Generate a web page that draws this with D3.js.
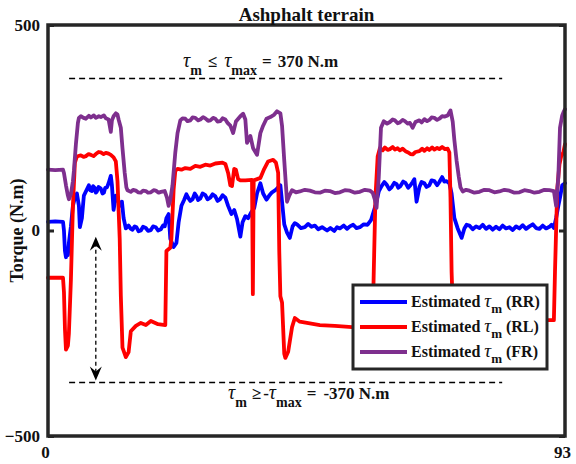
<!DOCTYPE html>
<html>
<head>
<meta charset="utf-8">
<script src="https://cdn.jsdelivr.net/npm/d3@7"></script>
<style>
body { margin: 0; background: #fff; }
svg text { font-family: "Liberation Serif", "Times New Roman", serif; font-weight: bold; fill: #111; }
</style>
</head>
<body>
<script>
var width = 576,
    height = 464;

// plot box (pixels)
var boxLeft = 48, boxRight = 565, boxTop = 25, boxBottom = 436;

var xTicks = [0, 93];
var yTicks = [-500, 0, 500];
var tauMax = 370;
var limitRange = [3.8, 81.7];
var arrowTime = 8.6, arrowRange = [-15, -365];

var seriesNames = ["(RR)", "(RL)", "(FR)"];
var seriesColors = ["#0000ff", "#ff0000", "#7e2f8e"];

// [time (s), torque (N.m)]
var torqueRR = [[0,21],[1.3,22],[2.7,21],[2.87,0],[3.05,-50],[3.23,-65],[3.4,-45],[3.58,-60],[3.76,-30],[4.12,10],[4.48,60],
  [4.84,80],[5.2,90],[5.56,60],[5.73,8],[6.1,30],[6.45,85],[7.0,100],[7.35,110],[7.6,98],[7.9,96],[8.1,108],[8.4,104],
  [8.6,92],[8.8,95],[9.1,106],[9.5,102],[9.8,90],[10.05,92],[10.3,104],[10.6,105],[10.9,115],[11.3,133],[11.5,110],
  [11.8,50],[12.2,85],[12.5,80],[12.9,60],[13.3,70],[13.6,30],[14.0,5],[14.5,12],[14.9,4],[15.2,2],[15.6,10],[15.9,8],
  [16.3,-2],[16.7,0],[17.1,9],[17.6,6],[18.0,-1],[18.5,1],[18.9,10],[19.4,8],[19.8,0],[20.3,3],[20.7,12],[21.0,10],
  [21.3,30],[21.7,40],[22.0,-20],[22.6,-40],[23.1,-30],[23.5,20],[24.0,60],[24.5,75],[24.9,88],[25.2,80],[25.6,72],
  [26.0,76],[26.4,90],[26.7,84],[27.0,74],[27.4,78],[27.8,90],[28.3,86],[28.7,76],[29.2,80],[29.6,88],[30.1,83],
  [30.5,72],[31.0,77],[31.4,86],[31.9,80],[32.4,60],[33.0,40],[33.5,50],[34.0,28],[34.6,-15],[35.0,20],[35.5,35],
  [36.0,30],[36.6,45],[37.1,55],[37.6,90],[38.2,115],[38.7,90],[39.3,75],[39.8,85],[40.3,93],[40.9,98],[41.4,105],
  [41.8,110],[42.1,70],[42.5,15],[43.0,-5],[43.5,-18],[44.0,10],[44.4,18],[44.8,15],[45.5,6],[46.2,8],[46.8,16],
  [47.4,9],[48.0,12],[48.6,3],[49.3,8],[50.2,0],[50.8,6],[51.5,-1],[52.0,8],[52.5,5],[53.2,12],[53.8,4],[54.3,10],
  [54.9,14],[55.5,6],[56.1,8],[56.8,15],[57.5,14],[58.1,25],[58.4,38],[58.9,60],[59.5,95],[60.0,108],[60.5,118],
  [60.9,112],[61.4,100],[61.8,105],[62.3,116],[62.7,113],[63.0,104],[63.4,108],[63.9,119],[64.3,116],[64.8,104],
  [65.2,110],[65.6,118],[65.9,125],[66.3,70],[66.8,105],[67.2,118],[67.7,115],[68.1,106],[68.6,110],[69.0,122],
  [69.5,120],[70.0,110],[70.4,118],[70.9,130],[71.3,119],[71.7,120],[72.2,115],[72.6,90],[73.1,30],[73.7,5],[74.4,-18],
  [74.9,5],[75.3,14],[75.8,12],[76.4,3],[77.0,10],[77.6,6],[78.2,14],[78.8,4],[79.4,10],[80.0,2],[80.6,9],[81.2,3],
  [81.8,12],[82.4,5],[83.0,8],[83.6,1],[84.2,10],[84.8,5],[85.4,13],[86.0,4],[86.6,10],[87.2,15],[87.8,6],[88.4,4],
  [89.0,12],[89.6,5],[90.2,9],[90.6,14],[91.0,6],[91.4,30],[91.8,60],[92.1,80],[92.5,110],[93,115]];

var torqueRL = [[0,-115],[2.7,-115],[2.87,-150],[3.05,-240],[3.23,-290],[3.58,-280],[3.76,-250],[4.12,-120],[4.48,60],
  [4.84,165],[5.2,180],[5.91,183],[6.4,179],[6.81,181],[7.3,186],[7.71,184],[8.2,181],[8.6,186],[9.1,191],[9.5,190],
  [10.0,186],[10.4,189],[10.9,187],[11.3,184],[11.8,178],[12.2,168],[12.5,120],[12.9,-20],[13.1,-158],[13.4,-285],
  [14.0,-308],[14.5,-296],[14.9,-245],[15.8,-232],[16.7,-225],[17.6,-230],[18.5,-220],[19.8,-228],[21.1,-230],
  [21.3,-50],[22.0,-42],[22.2,-20],[22.6,100],[22.9,145],[23.3,150],[24.0,148],[24.7,152],[25.6,150],[26.5,157],
  [27.4,155],[28.3,160],[29.2,158],[30.1,163],[31.4,165],[31.9,162],[32.4,140],[32.8,110],[33.1,108],[33.5,150],
  [33.8,148],[34.2,125],[34.6,122],[35.5,122],[36.7,123],[36.85,-155],[37.0,122],[38.2,128],[38.9,150],[39.6,168],
  [40.5,172],[41.0,165],[41.4,140],[41.6,-50],[41.8,-160],[42.1,-175],[42.5,-300],[42.7,-310],[43.2,-295],[43.9,-235],
  [44.4,-213],[45.3,-222],[47.1,-226],[48.9,-230],[51.6,-232],[54.7,-235],[57.9,-232],[58.4,-225],[58.6,-100],
  [58.9,80],[59.3,180],[59.7,200],[60.2,195],[60.6,202],[61.1,196],[61.5,198],[62.0,203],[62.4,197],[62.9,200],
  [63.3,195],[63.8,199],[64.3,193],[64.8,190],[65.2,186],[65.6,185],[66.1,191],[66.8,193],[67.3,199],[67.7,194],
  [68.2,200],[68.6,196],[69.1,202],[69.5,197],[70.0,201],[70.4,198],[70.9,203],[71.4,198],[71.9,199],[72.2,190],
  [72.4,80],[72.6,-100],[72.9,-225],[74.0,-230],[81.2,-225],[89.8,-218],[91.0,-218],[91.2,-100],[91.6,100],[92.0,160],
  [92.3,180],[92.7,190],[93,210]];

var torqueFR = [[0,148],[1.3,147],[2.7,148],[2.87,140],[3.23,110],[3.58,85],[3.76,76],[4.12,88],[4.48,120],[4.66,145],
  [5.02,210],[5.38,262],[5.56,274],[5.91,278],[6.4,274],[6.81,272],[7.35,279],[7.71,275],[8.25,280],[8.6,274],[9.15,278],
  [9.5,276],[10.05,280],[10.4,273],[10.9,270],[11.3,240],[11.5,268],[11.8,278],[12.2,285],[12.5,282],[12.7,270],
  [13.1,250],[13.4,200],[13.8,140],[14.1,105],[14.3,98],[14.9,94],[15.3,99],[15.8,97],[16.2,93],[16.7,92],[17.1,97],
  [17.6,96],[18.0,92],[18.5,93],[19.0,98],[19.4,97],[19.9,92],[20.3,94],[21.0,96],[21.4,80],[21.7,60],[22.0,75],
  [22.4,110],[22.9,190],[23.3,237],[23.8,268],[24.2,273],[24.7,272],[25.1,266],[25.6,268],[26.0,275],[26.5,274],
  [27.0,268],[27.4,270],[27.9,276],[28.3,273],[28.8,267],[29.2,268],[29.7,274],[30.1,272],[30.5,265],[31.0,266],
  [31.4,273],[31.9,270],[32.3,262],[32.8,255],[33.3,237],[33.8,265],[34.6,278],[35.1,284],[35.5,270],[35.8,213],
  [36.4,230],[36.9,200],[37.6,184],[38.2,237],[38.7,255],[39.3,272],[40.0,276],[40.7,282],[41.2,290],[41.8,285],
  [42.1,255],[42.5,170],[42.8,110],[43.0,70],[43.4,85],[43.9,98],[44.6,93],[45.3,95],[46.2,99],[47.1,97],[48.0,93],
  [48.9,92],[49.8,97],[50.7,96],[51.6,91],[52.5,93],[53.4,98],[54.3,97],[55.2,92],[56.1,94],[57.0,99],[57.9,97],
  [58.4,92],[58.8,75],[59.1,55],[59.5,130],[59.9,250],[60.4,266],[61.0,260],[61.5,264],[62.0,270],[62.4,268],
  [62.9,261],[63.3,263],[63.8,269],[64.2,266],[64.7,260],[65.1,262],[65.6,250],[66.1,264],[66.8,268],[67.2,263],
  [67.7,271],[68.2,266],[68.6,269],[69.0,275],[69.5,274],[70.0,269],[70.4,272],[70.9,278],[71.3,277],[71.9,280],
  [72.4,292],[72.8,265],[73.1,220],[73.5,170],[73.9,130],[74.2,105],[74.6,95],[75.2,99],[75.8,97],[76.7,92],[77.6,94],
  [78.5,99],[79.4,98],[80.3,93],[81.2,95],[82.1,99],[83.0,97],[83.9,92],[84.8,93],[85.7,98],[86.6,96],[87.5,92],
  [88.4,94],[89.3,99],[90.2,98],[91.0,96],[91.4,60],[91.8,130],[92.1,250],[92.5,280],[92.8,290],[93,295]];

var series = [torqueRR, torqueRL, torqueFR];

var svg = d3.select("body").append("svg")
    .attr("width", width)
    .attr("height", height);

var x = d3.scaleLinear().domain([0, 93]).range([boxLeft, boxRight]);
var y = d3.scaleLinear().domain([-500, 500]).range([boxBottom, boxTop]);

// text with tau / subscripts; each part may carry its own gap (dx)
function richText(g, px, py, parts, size, subSize, subDrop) {
  var t = g.append("text").attr("x", px).attr("y", py).style("font-size", size + "px");
  var shift = 0;
  parts.forEach(function(p) {
    var target = p.sub ? subDrop : 0;
    var s = t.append("tspan").text(p.t).attr("dy", target - shift);
    shift = target;
    if (p.dx) s.attr("dx", p.dx);
    if (p.sub) s.style("font-size", subSize + "px");
    if (p.it) s.style("font-style", "italic").style("font-weight", "normal").style("font-size", (size + 3) + "px");
  });
  return t;
}

var line = d3.line()
    .x(function(d) { return x(d[0]); })
    .y(function(d) { return y(d[1]); });

var plot = svg.append("g");

// limit lines
plot.selectAll(".limit")
  .data([tauMax, -tauMax])
  .enter().append("line")
    .attr("x1", x(limitRange[0]))
    .attr("x2", x(limitRange[1]))
    .attr("y1", function(d) { return y(d); })
    .attr("y2", function(d) { return y(d); })
    .attr("stroke", "#000")
    .attr("stroke-width", 1.4)
    .attr("stroke-dasharray", "6,4");

// data lines
plot.selectAll(".torque")
  .data(series)
  .enter().append("path")
    .attr("d", line)
    .attr("fill", "none")
    .attr("stroke", function(d, i) { return seriesColors[i]; })
    .attr("stroke-width", 3.8)
    .attr("stroke-linejoin", "round")
    .attr("stroke-linecap", "round");

// double arrow
var ax = x(arrowTime), ay1 = y(arrowRange[0]), ay2 = y(arrowRange[1]);
plot.append("line")
    .attr("x1", ax).attr("x2", ax)
    .attr("y1", ay1 + 6).attr("y2", ay2 - 6)
    .attr("stroke", "#000")
    .attr("stroke-width", 1.3)
    .attr("stroke-dasharray", "4,3");
plot.append("path")
    .attr("d", "M" + ax + "," + ay1 + "l-6,14l6,-5l6,5z")
    .attr("fill", "#000");
plot.append("path")
    .attr("d", "M" + ax + "," + ay2 + "l-6,-14l6,5l6,-5z")
    .attr("fill", "#000");

// annotations
richText(svg, 183, 67, [{t: "τ", it: true}, {t: "m", sub: true}, {t: "≤", dx: 6}, {t: "τ", it: true, dx: 7},
  {t: "max", sub: true}, {t: "=", dx: 5}, {t: tauMax + " N.m", dx: 6}], 17, 14, 7.5);
richText(svg, 228, 399, [{t: "τ", it: true}, {t: "m", sub: true}, {t: "≥", dx: 5}, {t: "-", dx: 2}, {t: "τ", it: true},
  {t: "max", sub: true}, {t: "=", dx: 5}, {t: "-" + tauMax + " N.m", dx: 7}], 17, 14, 8);

// axes
var frameColor = "#262626";
var yAxisL = svg.append("g")
    .attr("transform", "translate(" + boxLeft + ",0)")
    .call(d3.axisLeft(y).tickValues(yTicks).tickSize(-6).tickPadding(8));
var yAxisR = svg.append("g")
    .attr("transform", "translate(" + boxRight + ",0)")
    .call(d3.axisRight(y).tickValues(yTicks).tickSize(-6).tickFormat(""));
var xAxis = svg.append("g")
    .attr("transform", "translate(0," + boxBottom + ")")
    .call(d3.axisBottom(x).tickValues(xTicks).tickSize(0).tickPadding(10));
xAxis.selectAll("text").attr("dx", -3);

[yAxisL, yAxisR, xAxis].forEach(function(a) {
  a.select(".domain").remove();
  a.selectAll(".tick line").attr("stroke", frameColor).attr("stroke-width", 3);
  a.selectAll("text")
      .style("font-family", "'Liberation Serif', 'Times New Roman', serif")
      .style("font-weight", "bold")
      .style("font-size", "17px")
      .attr("fill", "#111");
});

svg.append("rect")
    .attr("x", boxLeft).attr("y", boxTop)
    .attr("width", boxRight - boxLeft).attr("height", boxBottom - boxTop)
    .attr("fill", "none")
    .attr("stroke", frameColor)
    .attr("stroke-width", 3.5);

svg.append("text")
    .attr("x", (boxLeft + boxRight) / 2)
    .attr("y", 21)
    .attr("text-anchor", "middle")
    .style("font-size", "19px")
    .text("Ashphalt terrain");

svg.append("text")
    .attr("transform", "translate(23," + ((boxTop + boxBottom) / 2) + ") rotate(-90)")
    .attr("text-anchor", "middle")
    .style("font-size", "18px")
    .text("Torque (N.m)");

// legend
var legend = svg.append("g").attr("transform", "translate(353,285)");
legend.append("rect")
    .attr("width", 194).attr("height", 84)
    .attr("fill", "#fff")
    .attr("stroke", frameColor)
    .attr("stroke-width", 3);

seriesNames.forEach(function(name, i) {
  var ly = 17 + i * 25;
  legend.append("line")
      .attr("x1", 7).attr("x2", 54)
      .attr("y1", ly).attr("y2", ly)
      .attr("stroke", seriesColors[i])
      .attr("stroke-width", 3.8);
  richText(legend, 58, ly + 5, [{t: "Estimated "}, {t: "τ", it: true}, {t: "m", sub: true}, {t: " " + name}], 16, 13, 6);
});
</script>
</body>
</html>
